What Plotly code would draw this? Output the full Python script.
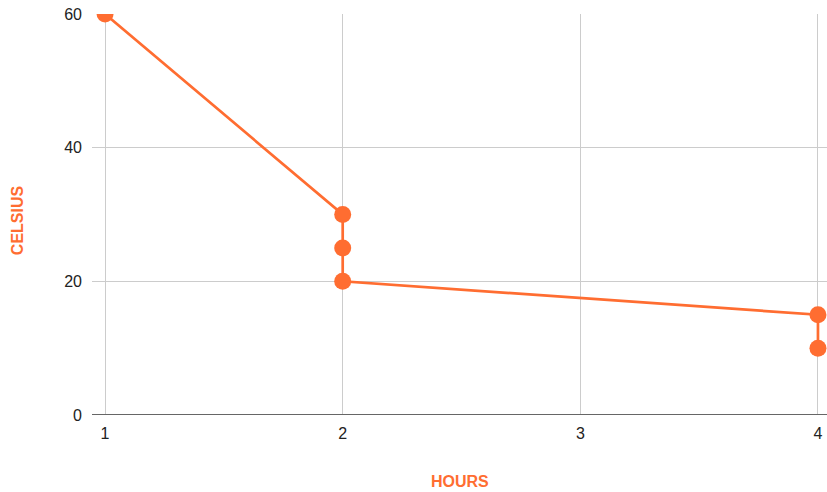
import plotly.graph_objects as go

hours = [1, 2, 2, 2, 4, 4]
celsius = [60, 30, 25, 20, 15, 10]
x_ticks = [1, 2, 3, 4]
y_ticks = [0, 20, 40, 60]

orange = "#FF6D31"

fig = go.Figure()
fig.add_trace(go.Scatter(
    x=hours, y=celsius, mode="lines+markers",
    line=dict(color=orange, width=2.7),
    marker=dict(color=orange, size=17),
    showlegend=False,
))

fig.update_layout(
    width=827, height=492,
    margin=dict(l=92, r=0, t=14, b=77),
    paper_bgcolor="white", plot_bgcolor="white",
    font=dict(family="Liberation Sans, Arial, sans-serif", size=16, color="#222222"),
    xaxis=dict(
        range=[0.945, 4.038], tickvals=x_ticks, ticktext=[str(v) for v in x_ticks],
        showgrid=True, gridcolor="#CCCCCC", gridwidth=1,
        zeroline=False, showline=False, ticks="", ticklabelstandoff=7,
        ticklabeloverflow="allow",
    ),
    yaxis=dict(
        range=[0, 60], tickvals=y_ticks, ticktext=[str(v) for v in y_ticks],
        showgrid=True, gridcolor="#CCCCCC", gridwidth=1,
        zeroline=False, showline=False, ticks="", ticklabelstandoff=9,
        ticklabeloverflow="allow",
    ),
    shapes=[dict(type="line", xref="paper", yref="y", x0=0, x1=1, y0=0, y1=0,
                 line=dict(color="#666666", width=2), layer="above")],
    annotations=[
        dict(text="<b>HOURS</b>", xref="paper", yref="paper", x=0.5, y=-0.1646,
             xanchor="center", yanchor="middle", showarrow=False,
             font=dict(color=orange, size=16)),
        dict(text="<b>CELSIUS</b>", xref="paper", yref="paper", x=-0.102, y=0.486,
             xanchor="center", yanchor="middle", showarrow=False, textangle=-90,
             font=dict(color=orange, size=16)),
    ],
)

fig.write_html(
    "out.html",
    config={"displayModeBar": False},
    post_script="document.body.style.margin='0';document.body.style.overflow='hidden';",
)
